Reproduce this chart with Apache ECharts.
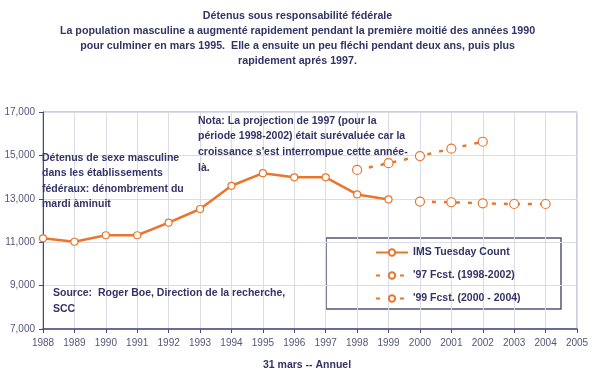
<!DOCTYPE html>
<html>
<head>
<meta charset="utf-8">
<script src="https://cdn.jsdelivr.net/npm/echarts@6/dist/echarts.min.js"></script>
<style>
html,body{margin:0;padding:0;background:#fff;}
#chart{width:595px;height:380px;}
</style>
</head>
<body>
<div id="chart"></div>
<script>
// ---- Data ----
var imsYears = [1988, 1989, 1990, 1991, 1992, 1993, 1994, 1995, 1996, 1997, 1998, 1999];
var imsValues = [11180, 11020, 11320, 11320, 11900, 12530, 13600, 14180, 13990, 13990, 13200, 12970];
var fc97Years = [1998, 1999, 2000, 2001, 2002];
var fc97Values = [14330, 14640, 14970, 15310, 15630];
var fc99Years = [2000, 2001, 2002, 2003, 2004];
var fc99Values = [12870, 12840, 12790, 12760, 12760];
var seriesNames = ['IMS Tuesday Count', "'97 Fcst. (1998-2002)", "'99 Fcst. (2000 - 2004)"];
var titleLines = [
  'Détenus sous responsabilité fédérale',
  'La population masculine a augmenté rapidement pendant la première moitié des années 1990',
  'pour culminer en mars 1995.  Elle a ensuite un peu fléchi pendant deux ans, puis plus',
  'rapidement aprés 1997.'
];
var noteLines = [
  'Nota: La projection de 1997 (pour la',
  'période 1998-2002) était surévaluée car la',
  "croissance s'est interrompue cette année-",
  'là.'
];
var descLines = [
  'Détenus de sexe masculine',
  'dans les établissements',
  'fédéraux: dénombrement du',
  'mardi àminuit'
];
var sourceLines = [
  'Source:  Roger Boe, Direction de la recherche,',
  'SCC'
];
var xAxisName = '31 mars -- Annuel';

function zip(xs, ys) { return xs.map(function (x, i) { return [x, ys[i]]; }); }

var ORANGE = '#E8772E';
var TXT = '#333366';
var FONT = '"Liberation Sans", Arial, sans-serif';

var chart = echarts.init(document.getElementById('chart'), null, {renderer: 'canvas'});
chart.setOption({
  backgroundColor: '#ffffff',
  animation: false,
  title: {
    text: titleLines.join('\n'),
    left: 'center',
    top: 3,
    textStyle: {fontFamily: FONT, fontSize: 10.7, fontWeight: 'bold', color: TXT, lineHeight: 15.3}
  },
  grid: {left: 43, top: 112, right: 18, bottom: 51, show: true, borderColor: '#9c9cbc', borderWidth: 1, backgroundColor: 'transparent'},
  xAxis: {
    type: 'value', min: 1988, max: 2005, interval: 1,
    axisLine: {lineStyle: {color: '#4a4a78', width: 1.5}},
    axisTick: {show: true, length: 4, inside: false, lineStyle: {color: '#4a4a78'}},
    axisLabel: {color: '#55557a', fontSize: 10, fontFamily: FONT, margin: 9, formatter: function (v) { return String(v); }},
    splitLine: {show: true, lineStyle: {color: '#dcdce8', width: 1}}
  },
  yAxis: {
    type: 'value', min: 7000, max: 17000, interval: 2000,
    axisLine: {show: true, lineStyle: {color: '#4a4a78', width: 1}},
    axisTick: {show: true, length: 4, lineStyle: {color: '#4a4a78'}},
    axisLabel: {color: '#55557a', fontSize: 10, fontFamily: FONT, margin: 8,
      formatter: function (v) { return v.toLocaleString('en-US'); }},
    splitLine: {show: true, lineStyle: {color: '#dcdce8', width: 1}}
  },
  legend: {
    orient: 'vertical',
    left: 370, top: 242,
    itemWidth: 32, itemHeight: 8, itemGap: 12,
    textStyle: {fontFamily: FONT, fontSize: 10.5, fontWeight: 'bold', color: TXT},
    data: seriesNames
  },
  graphic: [
    {type: 'rect', z: 0, zlevel: 0, silent: true, shape: {x: 326, y: 238, width: 235, height: 71},
      style: {fill: '#ffffff', stroke: '#55557a', lineWidth: 1.5}},
    {type: 'text', left: 198, top: 113, z: 10, style: {text: noteLines.join('\n'), fill: TXT,
      font: 'bold 10.5px ' + FONT, lineHeight: 15.7}},
    {type: 'text', left: 42, top: 150, z: 10, style: {text: descLines.join('\n'), fill: TXT,
      font: 'bold 10.5px ' + FONT, lineHeight: 15.5}},
    {type: 'text', left: 53, top: 285, z: 10, style: {text: sourceLines.join('\n'), fill: TXT,
      font: 'bold 10.5px ' + FONT, lineHeight: 16}},
    {type: 'text', left: 263, top: 360, z: 10, style: {text: xAxisName, fill: TXT,
      font: 'bold 10.5px ' + FONT}}
  ],
  series: [
    {name: seriesNames[0], type: 'line', data: zip(imsYears, imsValues), z: 5,
      lineStyle: {color: ORANGE, width: 2.5},
      itemStyle: {color: '#ffffff', borderColor: ORANGE, borderWidth: 1.2},
      symbol: 'circle', symbolSize: 7},
    {name: seriesNames[1], type: 'line', data: zip(fc97Years, fc97Values), z: 5,
      lineStyle: {color: ORANGE, width: 2.5, type: [4, 8]},
      itemStyle: {color: '#ffffff', borderColor: ORANGE, borderWidth: 1.2},
      symbol: 'circle', symbolSize: 9},
    {name: seriesNames[2], type: 'line', data: zip(fc99Years, fc99Values), z: 5,
      lineStyle: {color: ORANGE, width: 2.5, type: [4, 8]},
      itemStyle: {color: '#ffffff', borderColor: ORANGE, borderWidth: 1.2},
      symbol: 'circle', symbolSize: 9}
  ]
});
</script>
</body>
</html>
